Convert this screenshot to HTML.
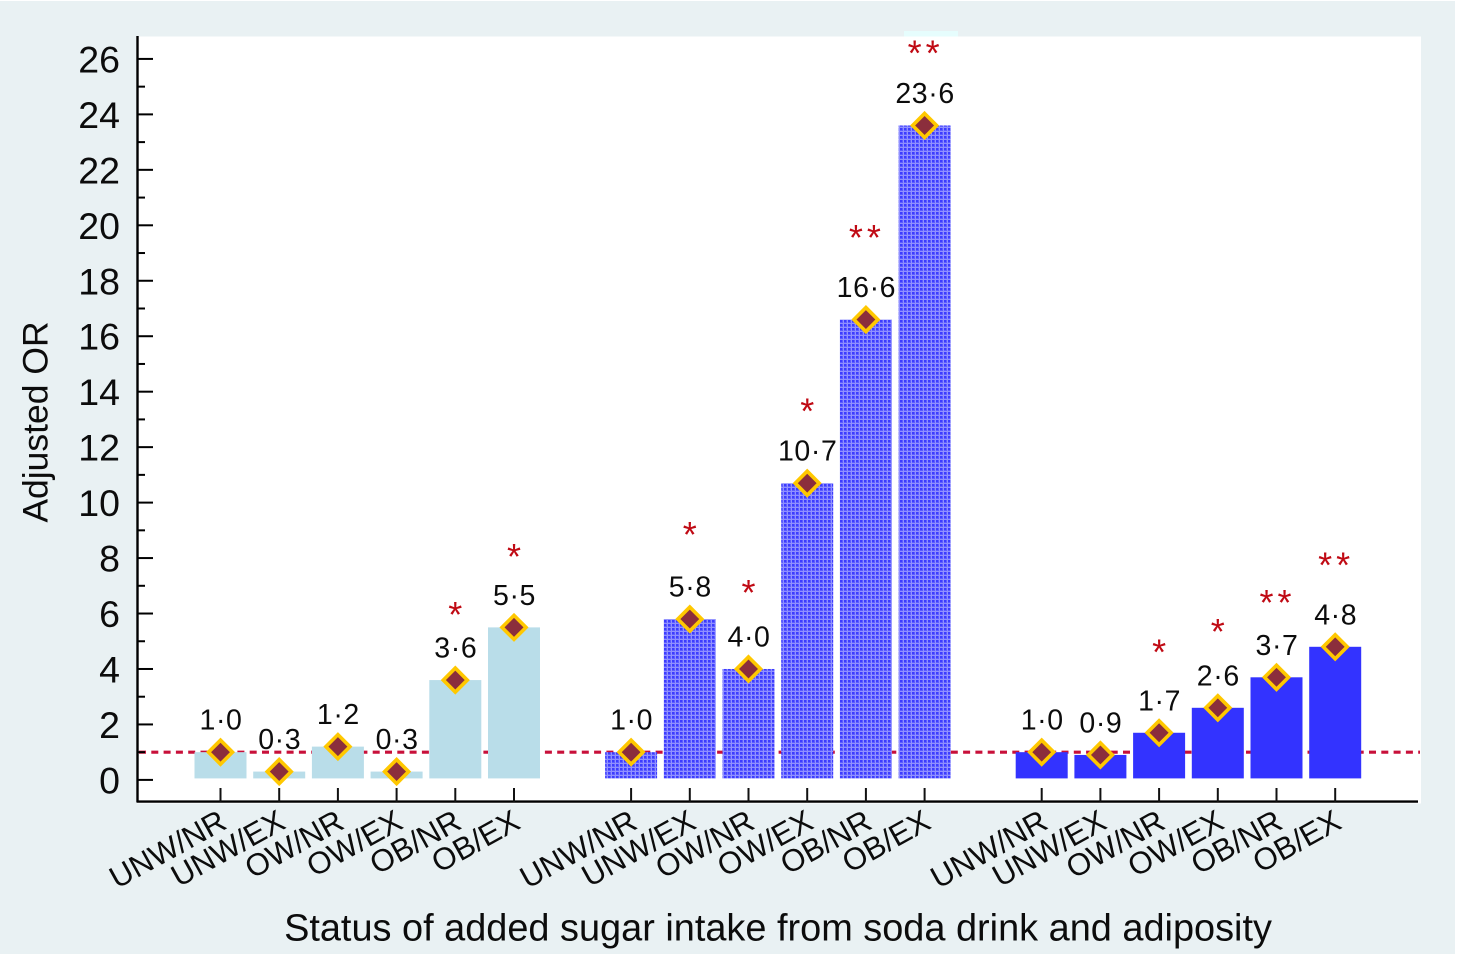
<!DOCTYPE html>
<html lang="en">
<head>
<meta charset="utf-8">
<title>Adjusted OR chart</title>
<style>
html,body{margin:0;padding:0;background:#fff;width:1459px;height:954px;overflow:hidden}
svg{display:block}
text{font-family:"Liberation Sans",sans-serif;fill:#0c0c0c}
</style>
</head>
<body>
<svg id="chart" xmlns="http://www.w3.org/2000/svg" width="1459" height="954" viewBox="0 0 1459 954">
  <defs>
    <pattern id="dots" width="4" height="4" patternUnits="userSpaceOnUse">
      <rect width="4" height="4" fill="#5c5cff"/>
      <rect x="0" y="0" width="2" height="2" fill="#3c3cff"/>
      <rect x="3" y="0" width="1" height="4" fill="#9090ff"/>
      <rect x="0" y="3" width="4" height="1" fill="#9090ff"/>
    </pattern>
  </defs>
  <rect x="0" y="1" width="1455" height="953" fill="#e9f1f3"/>
  <rect x="904" y="31" width="54" height="6" fill="#e6fdfd"/>
  <rect x="137" y="36.5" width="1284" height="767" fill="#ffffff"/>
  <g id="refLayer"></g>
  <g id="barLayer"></g>
  <g id="axisLayer"></g>
  <g id="markLayer"></g>
  <text transform="translate(47.5,422) rotate(-90)" text-anchor="middle" font-size="35.5">Adjusted OR</text>
  <text x="778" y="940.5" text-anchor="middle" font-size="37.9">Status of added sugar intake from soda drink and adiposity</text>
</svg>
<script>
var yTicks = [0, 2, 4, 6, 8, 10, 12, 14, 16, 18, 20, 22, 24, 26];
var categories = ['UNW/NR', 'UNW/EX', 'OW/NR', 'OW/EX', 'OB/NR', 'OB/EX'];
var groupLight = [1.0, 0.3, 1.2, 0.3, 3.6, 5.5];
var groupDotted = [1.0, 5.8, 4.0, 10.7, 16.6, 23.6];
var groupSolid = [1.0, 0.9, 1.7, 2.6, 3.7, 4.8];
var starsLight = ['', '', '', '', '*', '*'];
var starsDotted = ['', '*', '*', '*', '**', '**'];
var starsSolid = ['', '', '*', '*', '**', '**'];
var starLevelLight = [0, 0, 0, 0, 6.1, 8.2];
var starLevelDotted = [0, 9.0, 6.9, 13.45, 19.7, 26.35];
var starLevelSolid = [0, 0, 4.75, 5.5, 6.55, 7.9];
var referenceOR = 1;

var NS = 'http://www.w3.org/2000/svg';
function yScale(v) { return 779.9 - v * 27.73; }
function xScale(group, i) { return 220.5 + group * 410.6 + i * 58.7; }
function make(parent, tag, attrs) {
  var el = document.createElementNS(NS, tag);
  for (var k in attrs) el.setAttribute(k, attrs[k]);
  parent.appendChild(el);
  return el;
}
var refLayer = document.getElementById('refLayer');
var barLayer = document.getElementById('barLayer');
var axisLayer = document.getElementById('axisLayer');
var markLayer = document.getElementById('markLayer');

var refLine = make(refLayer, 'line', {x1: 139, x2: 1420, y1: yScale(referenceOR), y2: yScale(referenceOR), stroke: '#c8103a', 'stroke-width': 3.2, 'stroke-dasharray': '7 5.3'});



var yAxis = make(axisLayer, 'line', {x1: 137.5, x2: 137.5, y1: 36, y2: 802.5, stroke: '#000', 'stroke-width': 2.4});


var xAxis = make(axisLayer, 'line', {x1: 137, x2: 1418, y1: 801.6, y2: 801.6, stroke: '#000', 'stroke-width': 2.4});



yTicks.forEach(function (t, idx) {
  var y = yScale(t);
  var tick = make(axisLayer, 'line', {x1: 137, x2: 153, y1: y, y2: y, stroke: '#000', 'stroke-width': 2});
  
  
  var lab = make(axisLayer, 'text', {x: 120, y: y + 13.5, 'text-anchor': 'end', 'font-size': 37.5});
  
  
  lab.textContent = String(t);
  if (idx < yTicks.length - 1) {
    var my = yScale((t + yTicks[idx + 1]) / 2);
    var minor = make(axisLayer, 'line', {x1: 137, x2: 145, y1: my, y2: my, stroke: '#000', 'stroke-width': 2});
    
    
  }
});

function drawGroup(g, values, stars, starLevels, fill) {
  values.forEach(function (v, i) {
    var cx = xScale(g, i);
    var top = yScale(v);
    var bottom = yScale(0) - 1.5;
    var bar = make(barLayer, 'rect', {x: cx - 26, y: top, width: 52, height: Math.max(bottom - top, 0), fill: fill});
    
    

    var tick = make(axisLayer, 'line', {x1: cx, x2: cx, y1: 788, y2: 802, stroke: '#111', 'stroke-width': 2});
    
    

    var cat = make(axisLayer, 'text', {transform: 'translate(' + (cx + 8) + ',827.5) rotate(-29)', 'text-anchor': 'end', 'font-size': 31});
    
    
    cat.textContent = categories[i];

    var r = 12;
    var pts = cx + ',' + (top - r) + ' ' + (cx + r) + ',' + top + ' ' + cx + ',' + (top + r) + ' ' + (cx - r) + ',' + top;
    var marker = make(markLayer, 'polygon', {points: pts, fill: '#8b2e3c', stroke: '#ffc800', 'stroke-width': 3.6});
    
    

    var lab = make(markLayer, 'text', {x: cx + 0.5, y: top - 22.5, 'text-anchor': 'middle', 'font-size': 28.5, 'letter-spacing': '0.6'});
    
    
    lab.textContent = v.toFixed(1).replace('.', '\u00b7');

    if (stars[i]) {
      var isDouble = stars[i].length > 1;
      var st = make(markLayer, 'text', {x: cx + (isDouble ? 1 : 0), y: yScale(starLevels[i]) + 16.5, 'text-anchor': 'middle', 'font-size': 36, 'letter-spacing': isDouble ? '4' : '0'});
      
      
      st.style.fill = '#c00a14';
      st.textContent = stars[i];
    }
  });
}
drawGroup(0, groupLight, starsLight, starLevelLight, '#b9dde9');
drawGroup(1, groupDotted, starsDotted, starLevelDotted, 'url(#dots)');
drawGroup(2, groupSolid, starsSolid, starLevelSolid, '#3333ff');
</script>
</body>
</html>
